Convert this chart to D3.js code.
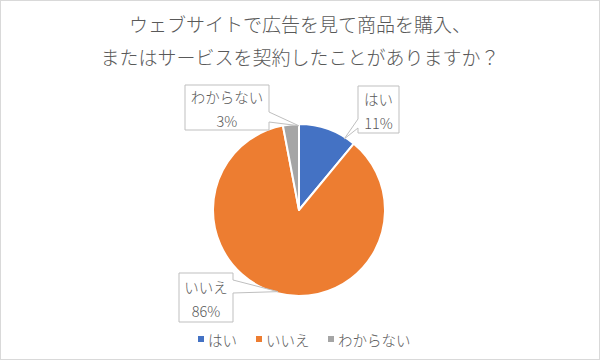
<!DOCTYPE html>
<html>
<head>
<meta charset="utf-8">
<script src="https://cdn.jsdelivr.net/npm/d3@7"></script>
<style>
  body { margin: 0; background: #fff; }
  svg text { font-family: "Noto Sans CJK JP", "Noto Sans", sans-serif; fill: #595959; font-weight: 300; }
</style>
</head>
<body>
<svg id="chart"></svg>
<script>
// data
const categories = ["はい", "いいえ", "わからない"];
const values = [11, 86, 3];
const colors = ["#4472C4", "#ED7D31", "#A5A5A5"];
const titleLines = ["ウェブサイトで広告を見て商品を購入、", "またはサービスを契約したことがありますか？"];

const width = 600, height = 360;
const cx = 299, cy = 210, radius = 86;

const svg = d3.select("#chart")
  .attr("width", width)
  .attr("height", height);

// outer border
svg.append("rect")
  .attr("x", 0.5).attr("y", 0.5)
  .attr("width", width - 1).attr("height", height - 1)
  .attr("fill", "#fff")
  .attr("stroke", "#d9d9d9");

// title
svg.selectAll(".title")
  .data(titleLines)
  .join("text")
  .attr("class", "title")
  .attr("x", width / 2)
  .attr("y", (d, i) => 23 + i * 33)
  .attr("text-anchor", "middle")
  .attr("dominant-baseline", "central")
  .style("font-size", "19px")
  .text(d => d);

// pie
const pie = d3.pie().sort(null).value(d => d);
const arc = d3.arc().innerRadius(0).outerRadius(radius);
const arcs = pie(values);
const total = d3.sum(values);

const g = svg.append("g").attr("transform", `translate(${cx},${cy})`);
g.selectAll("path")
  .data(arcs)
  .join("path")
  .attr("d", arc)
  .attr("fill", (d, i) => colors[i])
  .attr("stroke", "#fff")
  .attr("stroke-width", 2)
  .attr("stroke-linejoin", "round");

// callout boxes (box x0,y0,x1,y1, side of wedge, wedge y range, tip position within slice)
const callouts = [
  { box: [358, 86, 399, 133], side: "left", wy: [119, 128], tipAngle: 0.82 },
  { box: [179, 273, 233, 322], side: "right", wy: [280, 293], tipAngle: 0.5 },
  { box: [185, 85, 269, 130], side: "right", wy: [112, 122], tipAngle: 0.985 }
];

callouts.forEach((c, i) => {
  const [x0, y0, x1, y1] = c.box;
  const a = arcs[i];
  const ang = a.startAngle + (a.endAngle - a.startAngle) * c.tipAngle;
  const tip = [cx + radius * 0.98 * Math.sin(ang), cy - radius * 0.98 * Math.cos(ang)];
  let p;
  if (c.side === "left") {
    p = `M${x0},${y0}H${x1}V${y1}H${x0}V${c.wy[1]}L${tip[0]},${tip[1]}L${x0},${c.wy[0]}Z`;
  } else {
    p = `M${x0},${y0}H${x1}V${c.wy[0]}L${tip[0]},${tip[1]}L${x1},${c.wy[1]}V${y1}H${x0}Z`;
  }
  svg.append("path")
    .attr("d", p)
    .attr("fill", "#fff")
    .attr("stroke", "#bfbfbf")
    .attr("stroke-width", 1);

  const mx = (x0 + x1) / 2;
  const my = (y0 + y1) / 2;
  svg.append("text")
    .attr("x", mx).attr("y", my - 11)
    .attr("text-anchor", "middle")
    .attr("dominant-baseline", "central")
    .style("font-size", "14.5px")
    .text(categories[i]);
  svg.append("text")
    .attr("x", mx).attr("y", my + 13)
    .attr("text-anchor", "middle")
    .attr("dominant-baseline", "central")
    .style("font-size", "14.5px")
    .text(Math.round(values[i] / total * 100) + "%");
});

// legend
const legendX = [198, 256, 328];
const legend = svg.selectAll(".legend")
  .data(categories)
  .join("g")
  .attr("class", "legend")
  .attr("transform", (d, i) => `translate(${legendX[i]},339)`);
legend.append("rect")
  .attr("x", 0).attr("y", -3)
  .attr("width", 6).attr("height", 6)
  .attr("fill", (d, i) => colors[i]);
legend.append("text")
  .attr("x", 10).attr("y", 0)
  .attr("dominant-baseline", "central")
  .style("font-size", "14.5px")
  .text(d => d);
</script>
</body>
</html>
